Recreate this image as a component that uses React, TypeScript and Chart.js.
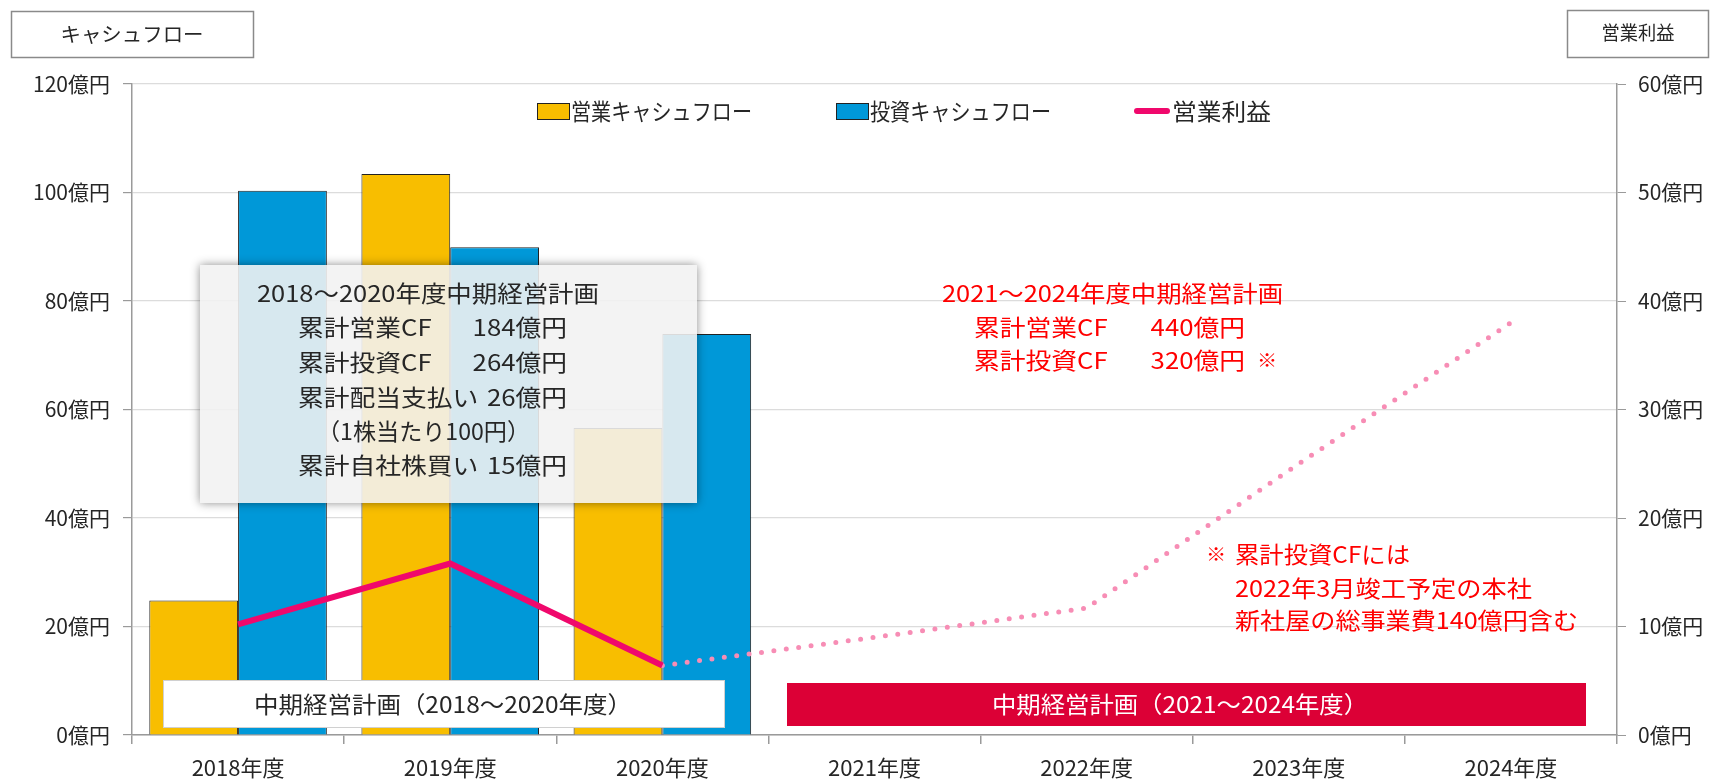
import React, { useEffect, useRef } from "react";
import { Chart, registerables } from "chart.js";

Chart.register(...registerables);

// ---- data ----
const categories = ["2018年度", "2019年度", "2020年度", "2021年度", "2022年度", "2023年度", "2024年度"];
const operatingCF = [24.8, 103.4, 56.6];
const investingCF = [100.3, 89.9, 73.9];
const operatingProfit = [10.2, 15.8, 6.4];
const operatingProfitPlan = [null, null, 6.4, 9.0, 11.7, 25.0, 38.0];
const leftAxisMax = 120;
const leftAxisStep = 20;
const rightAxisMax = 60;
const rightAxisStep = 10;
const unitSuffix = "億円";

const seriesNames = ["営業キャシュフロー", "投資キャシュフロー", "営業利益"];
const leftAxisTitle = "キャシュフロー";
const rightAxisTitle = "営業利益";

const pastPlanLines = [
  ["2018～2020年度中期経営計画", ""],
  ["累計営業CF", "184億円"],
  ["累計投資CF", "264億円"],
  ["累計配当支払い", "26億円"],
  ["（1株当たり100円）", ""],
  ["累計自社株買い", "15億円"],
];
const newPlanLines = [
  ["2021～2024年度中期経営計画", ""],
  ["累計営業CF", "440億円"],
  ["累計投資CF", "320億円"],
];
const footnoteLines = ["累計投資CFには", "2022年3月竣工予定の本社", "新社屋の総事業費140億円含む"];
const pastPlanBand = "中期経営計画（2018～2020年度）";
const newPlanBand = "中期経営計画（2021～2024年度）";

// ---- style ----
const FONT = '"Noto Sans CJK JP", "Noto Sans", sans-serif';
const YELLOW = "#F8BE00";
const BLUE = "#0098D8";
const PINK = "#F0086C";
const PINK_LIGHT = "#F78DB5";
const RED = "#FF0000";
const CRIMSON = "#DC0036";
const TEXT = "#262626";
const AXIS = "#9a9a9a";
const SX = 1.12;

function txt(ctx, s, x, y, size, color, align = "left", width = 0) {
  ctx.save();
  ctx.font = `${size}px ${FONT}`;
  ctx.fillStyle = color;
  ctx.textBaseline = "middle";
  ctx.textAlign = "left";
  const m = ctx.measureText(s).width;
  const sx = width ? width / m : SX;
  const w = m * sx;
  const left = align === "left" ? x : align === "right" ? x - w : x - w / 2;
  ctx.translate(left, y);
  ctx.scale(sx, 1);
  ctx.fillText(s, 0, 0);
  ctx.restore();
}

const overlayPlugin = {
  id: "overlay",
  afterDatasetsDraw(chart) {
    const ctx = chart.ctx;

    // translucent summary box with shadow
    const bx = 200, by = 265, bw = 497, bh = 238;
    ctx.save();
    ctx.beginPath();
    ctx.rect(0, 0, chart.width, chart.height);
    ctx.rect(bx, by, bw, bh);
    ctx.clip("evenodd");
    ctx.shadowColor = "rgba(0,0,0,0.45)";
    ctx.shadowBlur = 9;
    ctx.fillStyle = "#f2f2f2";
    ctx.fillRect(bx, by, bw, bh);
    ctx.restore();
    ctx.save();
    ctx.fillStyle = "rgba(242,242,242,0.89)";
    ctx.fillRect(bx, by, bw, bh);
    ctx.restore();

    const gy = [293, 327, 362, 397, 431, 465];
    txt(ctx, pastPlanLines[0][0], 257, gy[0], 23, TEXT, "left", 342);
    [1, 2, 3, 5].forEach((i) => {
      txt(ctx, pastPlanLines[i][0], 298, gy[i], 23, TEXT, "left");
      txt(ctx, pastPlanLines[i][1], 567, gy[i], 23, TEXT, "right");
    });
    txt(ctx, pastPlanLines[4][0], 317, gy[4], 23, TEXT, "left", 213);

    // red plan text
    const ry = [293, 327, 360];
    txt(ctx, newPlanLines[0][0], 942, ry[0], 23, RED, "left", 341);
    txt(ctx, newPlanLines[1][0], 974, ry[1], 23, RED, "left");
    txt(ctx, newPlanLines[1][1], 1245, ry[1], 23, RED, "right");
    txt(ctx, newPlanLines[2][0], 974, ry[2], 23, RED, "left");
    txt(ctx, newPlanLines[2][1], 1245, ry[2], 23, RED, "right");
    txt(ctx, "※", 1257, ry[2], 18, RED, "left");

    // footnote
    const fy = [554, 588, 620];
    txt(ctx, "※", 1206, fy[0], 18, RED, "left");
    txt(ctx, footnoteLines[0], 1235, fy[0], 23, RED, "left", 175);
    txt(ctx, footnoteLines[1], 1235, fy[1], 23, RED, "left", 297);
    txt(ctx, footnoteLines[2], 1235, fy[2], 23, RED, "left", 343);

    // plan bands
    ctx.save();
    ctx.fillStyle = "#ffffff";
    ctx.fillRect(163, 680, 561, 47);
    ctx.strokeStyle = "#d0d0d0";
    ctx.lineWidth = 1;
    ctx.strokeRect(163.5, 680.5, 561, 47);
    ctx.fillStyle = CRIMSON;
    ctx.fillRect(787, 683, 799, 43);
    ctx.restore();
    txt(ctx, pastPlanBand, 443, 704, 23, TEXT, "center", 378);
    txt(ctx, newPlanBand, 1180, 704, 23, "#ffffff", "center", 376);

    // legend (from datasets)
    const ds = chart.data.datasets;
    const legendItems = [
      { x: 537, ds: ds[0], w: 181, tx: 571 },
      { x: 836, ds: ds[1], w: 181, tx: 870 },
      { x: 1135, ds: ds[2], w: 99, tx: 1172 },
    ];
    legendItems.forEach((it) => {
      ctx.save();
      if (it.ds.type === "line") {
        ctx.strokeStyle = it.ds.borderColor;
        ctx.lineWidth = 6;
        ctx.lineCap = "round";
        ctx.beginPath();
        ctx.moveTo(it.x + 2, 111);
        ctx.lineTo(it.x + 32, 111);
        ctx.stroke();
      } else {
        ctx.fillStyle = it.ds.backgroundColor;
        ctx.fillRect(it.x, 103, 32, 16);
        ctx.strokeStyle = "#222";
        ctx.lineWidth = 1;
        ctx.strokeRect(it.x + 0.5, 103.5, 32, 16);
      }
      ctx.restore();
      txt(ctx, it.ds.label, it.tx, 111, 23, TEXT, "left", it.w);
    });

    // axis title boxes
    ctx.save();
    ctx.strokeStyle = "#8a8a8a";
    ctx.lineWidth = 1.5;
    ctx.strokeRect(11.5, 11.5, 242, 46);
    ctx.strokeRect(1567.5, 10.5, 141, 47);
    ctx.restore();
    txt(ctx, leftAxisTitle, 132, 34, 20, TEXT, "center", 143);
    txt(ctx, rightAxisTitle, 1638, 33, 19, TEXT, "center", 73);
  },
};

export default function App() {
  const ref = useRef(null);

  useEffect(() => {
    document.body.style.margin = "0";
    const chart = new Chart(ref.current, {
      type: "bar",
      data: {
        labels: categories,
        datasets: [
          {
            type: "bar",
            label: seriesNames[0],
            data: operatingCF,
            backgroundColor: YELLOW,
            borderColor: "#222",
            borderWidth: 1,
            yAxisID: "y",
            categoryPercentage: 0.837,
            barPercentage: 1,
            order: 2,
          },
          {
            type: "bar",
            label: seriesNames[1],
            data: investingCF,
            backgroundColor: BLUE,
            borderColor: "#222",
            borderWidth: 1,
            yAxisID: "y",
            categoryPercentage: 0.837,
            barPercentage: 1,
            order: 3,
          },
          {
            type: "line",
            label: seriesNames[2],
            data: operatingProfit,
            borderColor: PINK,
            backgroundColor: PINK,
            borderWidth: 6,
            pointRadius: 0,
            tension: 0,
            yAxisID: "y1",
            order: 0,
          },
          {
            type: "line",
            label: seriesNames[2] + "（計画）",
            data: operatingProfitPlan,
            borderColor: PINK_LIGHT,
            backgroundColor: PINK_LIGHT,
            borderWidth: 5,
            borderDash: [0, 12.5],
            borderCapStyle: "round",
            pointRadius: 0,
            tension: 0,
            spanGaps: false,
            yAxisID: "y1",
            order: 1,
          },
        ],
      },
      options: {
        responsive: true,
        maintainAspectRatio: false,
        animation: false,
        layout: { padding: { top: 84, left: 0, right: 0, bottom: 0 } },
        font: { family: FONT },
        plugins: { legend: { display: false }, tooltip: { enabled: false } },
        scales: {
          x: {
            offset: true,
            grid: { display: true, drawOnChartArea: false, offset: true, tickLength: 9, color: AXIS, lineWidth: 1.5 },
            border: { color: AXIS, width: 1.5 },
            ticks: { font: { family: FONT, size: 22 }, color: TEXT, padding: 10, maxRotation: 0, autoSkip: false },
            afterFit: (s) => { s.height = 44; },
          },
          y: {
            position: "left",
            min: 0,
            max: leftAxisMax,
            ticks: {
              stepSize: leftAxisStep,
              callback: (v) => v + unitSuffix,
              font: { family: FONT, size: 21 },
              color: TEXT,
              padding: 13,
            },
            grid: { color: "#dcdcdc", lineWidth: 1.2, tickLength: 9, tickColor: AXIS },
            border: { color: AXIS, width: 1.5 },
            afterFit: (s) => { s.width = 132; },
          },
          y1: {
            position: "right",
            min: 0,
            max: rightAxisMax,
            ticks: {
              stepSize: rightAxisStep,
              callback: (v) => v + unitSuffix,
              font: { family: FONT, size: 21 },
              color: TEXT,
              padding: 12,
            },
            grid: { drawOnChartArea: false, tickLength: 9, color: AXIS, tickColor: AXIS },
            border: { color: AXIS, width: 1.5 },
            afterFit: (s) => { s.width = 94; },
          },
        },
      },
      plugins: [overlayPlugin],
    });
    return () => chart.destroy();
  }, []);

  return (
    <div style={{ position: "fixed", left: 0, top: 0, width: 1711, height: 779, background: "#fff" }}>
      <canvas ref={ref} />
    </div>
  );
}
